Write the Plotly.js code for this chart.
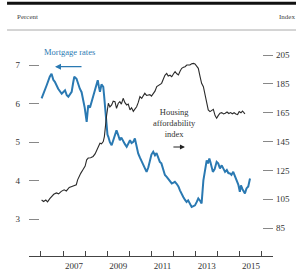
<!DOCTYPE html>
<html><head><meta charset="utf-8">
<script src="https://cdn.plot.ly/plotly-3.0.1.min.js"></script>
<style>html,body{margin:0;padding:0;background:#fff}#chart{width:296px;height:275px}</style>
</head><body><div id="chart"></div>
<script>
// Mortgage rates (percent, left axis)
const mortgageYears = [2006.03,2006.15,2006.26,2006.40,2006.48,2006.56,2006.63,2006.78,2006.94,2007.09,2007.17,2007.24,2007.32,2007.39,2007.46,2007.51,2007.61,2007.68,2007.76,2007.84,2007.91,2007.98,2008.07,2008.14,2008.22,2008.29,2008.36,2008.44,2008.52,2008.57,2008.62,2008.67,2008.74,2008.82,2008.86,2008.90,2008.97,2009.01,2009.05,2009.12,2009.20,2009.28,2009.35,2009.42,2009.50,2009.57,2009.64,2009.72,2009.80,2009.88,2009.95,2010.03,2010.10,2010.18,2010.25,2010.33,2010.40,2010.48,2010.56,2010.64,2010.71,2010.78,2010.86,2010.93,2011.00,2011.08,2011.16,2011.23,2011.30,2011.38,2011.45,2011.53,2011.61,2011.69,2011.76,2011.84,2011.92,2012.00,2012.06,2012.14,2012.22,2012.29,2012.36,2012.44,2012.52,2012.59,2012.66,2012.74,2012.82,2012.90,2012.97,2013.05,2013.12,2013.20,2013.27,2013.35,2013.42,2013.50,2013.56,2013.62,2013.67,2013.72,2013.78,2013.86,2013.95,2014.02,2014.10,2014.18,2014.26,2014.33,2014.41,2014.48,2014.55,2014.62,2014.70,2014.78,2014.86,2014.93,2015.00,2015.05,2015.12,2015.18,2015.23,2015.30,2015.38,2015.46];
const mortgageRates = [6.14,6.30,6.48,6.70,6.78,6.62,6.57,6.39,6.26,6.35,6.22,6.18,6.25,6.31,6.55,6.70,6.65,6.52,6.39,6.30,6.13,5.90,5.53,5.96,5.90,6.05,6.20,6.39,6.50,6.61,6.45,6.31,6.50,6.44,6.20,5.96,5.36,5.20,5.14,5.00,4.92,5.05,5.14,5.31,5.18,5.05,5.12,5.01,4.95,4.88,4.95,5.05,4.98,5.01,5.10,4.85,4.71,4.60,4.49,4.40,4.30,4.23,4.35,4.49,4.68,4.75,4.66,4.72,4.60,4.49,4.45,4.27,4.15,4.10,4.05,4.01,3.93,3.95,3.97,3.92,3.85,3.75,3.65,3.58,3.50,3.45,3.49,3.40,3.32,3.34,3.36,3.45,3.54,3.48,3.41,4.01,4.30,4.53,4.45,4.58,4.48,4.36,4.23,4.30,4.49,4.45,4.32,4.40,4.30,4.23,4.28,4.20,4.19,4.15,4.23,4.10,4.01,3.90,3.71,3.88,3.78,3.70,3.67,3.80,3.85,4.06];

// Housing affordability index (right axis)
const haiYears = [2006.03,2006.12,2006.22,2006.30,2006.40,2006.48,2006.58,2006.70,2006.80,2006.92,2007.05,2007.15,2007.28,2007.40,2007.50,2007.60,2007.66,2007.72,2007.80,2007.90,2008.00,2008.07,2008.14,2008.25,2008.36,2008.45,2008.52,2008.60,2008.67,2008.74,2008.82,2008.87,2008.92,2008.97,2009.05,2009.12,2009.20,2009.27,2009.35,2009.42,2009.50,2009.57,2009.64,2009.72,2009.80,2009.88,2009.95,2010.03,2010.10,2010.18,2010.25,2010.33,2010.40,2010.48,2010.56,2010.63,2010.70,2010.78,2010.86,2010.93,2011.00,2011.08,2011.16,2011.24,2011.32,2011.40,2011.46,2011.53,2011.61,2011.69,2011.76,2011.84,2011.92,2012.00,2012.07,2012.15,2012.22,2012.30,2012.37,2012.45,2012.52,2012.60,2012.68,2012.74,2012.82,2012.90,2012.97,2013.05,2013.12,2013.20,2013.27,2013.35,2013.42,2013.50,2013.57,2013.65,2013.72,2013.80,2013.88,2013.95,2014.02,2014.10,2014.18,2014.26,2014.34,2014.42,2014.50,2014.58,2014.66,2014.74,2014.82,2014.90,2014.97,2015.05,2015.12,2015.18,2015.23];
const haiValues = [104.5,103.5,104.5,103.2,105.5,107.0,108.5,109.4,108.8,110.5,111.6,110.8,113.2,113.9,114.5,115.1,118.5,121.0,123.0,125.5,128.0,132.4,133.6,133.8,134.7,136.5,139.3,141.6,143.9,143.5,145.0,148.5,157.0,163.0,171.6,169.0,170.4,173.0,172.7,168.1,171.6,172.7,171.0,175.0,172.0,170.4,171.0,167.0,168.5,166.0,167.5,169.2,172.0,176.2,175.0,176.5,178.5,177.0,177.3,177.5,176.5,178.0,180.0,183.1,183.8,184.5,185.4,188.0,191.0,192.3,190.5,191.0,190.0,192.0,193.5,192.0,191.2,194.0,195.8,196.5,196.9,198.1,197.8,198.1,199.0,199.2,198.8,197.5,195.8,190.0,185.4,183.1,178.5,171.6,167.0,165.8,166.5,167.4,163.0,161.2,163.0,164.7,165.1,164.2,164.7,165.5,164.5,165.1,164.3,165.0,164.2,163.8,165.8,165.0,166.2,164.7,164.2];

// Axis ticks and labels
const yearLabelPos = [2007.5,2009.5,2011.5,2013.5,2015.5];
const yearLabels = ['2007','2009','2011','2013','2015'];
const percentTicks = [3,4,5,6,7];
const indexTicks = [85,105,125,145,165,185,205];

const BLUE = '#2a79b2';
const INK = '#2b2b2b';
const AXIS = '#444';
const SERIF = 'Liberation Serif, Times New Roman, serif';

const traces = [
  {x: haiYears, y: haiValues, type: 'scatter', mode: 'lines', yaxis: 'y2',
   line: {color: INK, width: 1.1}, hoverinfo: 'skip'},
  {x: mortgageYears, y: mortgageRates, type: 'scatter', mode: 'lines', yaxis: 'y',
   line: {color: BLUE, width: 2}, hoverinfo: 'skip'}
];

const layout = {
  width: 296, height: 275,
  margin: {l: 29, r: 23, t: 35, b: 19},
  paper_bgcolor: '#fff', plot_bgcolor: '#fff',
  showlegend: false,
  font: {family: SERIF, size: 9, color: '#333'},
  xaxis: {range: [2005.46, 2016.50], tickmode: 'array', tickvals: yearLabelPos, ticktext: yearLabels,
    ticks: '', ticklabelstandoff: 1,
    minor: {tick0: 2006, dtick: 1, ticks: 'inside', ticklen: 5, tickcolor: AXIS, tickwidth: 1, showgrid: false},
    showline: true, linecolor: AXIS, linewidth: 1, showgrid: false, zeroline: false,
    tickfont: {family: SERIF, size: 9, color: '#333'}},
  yaxis: {range: [2.045, 7.785], tickmode: 'array', tickvals: percentTicks,
    ticks: 'inside', ticklen: 10, tickcolor: '#888', tickwidth: 1,
    showline: false, showgrid: false, zeroline: false, ticklabelstandoff: 8,
    tickfont: {family: SERIF, size: 9, color: '#333'}},
  yaxis2: {range: [65.7, 218.9], overlaying: 'y', side: 'right', anchor: 'x',
    tickmode: 'array', tickvals: indexTicks,
    ticks: 'inside', ticklen: 10, tickcolor: '#888', tickwidth: 1,
    showline: false, showgrid: false, zeroline: false, ticklabelstandoff: 2,
    tickfont: {family: SERIF, size: 9, color: '#333'}},
  shapes: [
    {type: 'line', xref: 'paper', yref: 'paper', x0: -0.09, x1: 1.1, y0: 1.1434, y1: 1.1434,
     line: {color: '#111', width: 3}},
    {type: 'line', xref: 'paper', yref: 'paper', x0: -0.09, x1: 1.1, y0: 1.0226, y1: 1.0226,
     line: {color: '#aaa', width: 1}}
  ],
  annotations: [
    {text: 'Percent', xref: 'paper', yref: 'paper', x: -0.0574, y: 1.0814,
     xanchor: 'left', yanchor: 'middle', showarrow: false,
     font: {family: SERIF, size: 7, color: '#444'}},
    {text: 'Index', xref: 'paper', yref: 'paper', x: 1.0164, y: 1.0814,
     xanchor: 'left', yanchor: 'middle', showarrow: false,
     font: {family: SERIF, size: 7, color: '#444'}},
    {text: 'Mortgage rates', xref: 'paper', yref: 'paper', x: 0.0533, y: 0.923,
     xanchor: 'left', yanchor: 'middle', showarrow: false,
     font: {family: SERIF, size: 8.5, color: BLUE}},
    {text: '', xref: 'paper', yref: 'paper', x: 0.1066, y: 0.8566,
     showarrow: true, ax: 28, ay: 0, arrowhead: 2, arrowsize: 1, arrowwidth: 1.2,
     arrowcolor: BLUE},
    {text: 'Housing<br>affordability<br>index', xref: 'paper', yref: 'paper', x: 0.598, y: 0.6018,
     xanchor: 'center', yanchor: 'middle', showarrow: false, align: 'center',
     font: {family: SERIF, size: 8.5, color: '#333'}},
    {text: '', xref: 'paper', yref: 'paper', x: 0.639, y: 0.4932,
     showarrow: true, ax: -13, ay: 0, arrowhead: 2, arrowsize: 1, arrowwidth: 1,
     arrowcolor: '#222'}
  ]
};

Plotly.newPlot('chart', traces, layout, {staticPlot: true, displayModeBar: false});
</script>
</body></html>
